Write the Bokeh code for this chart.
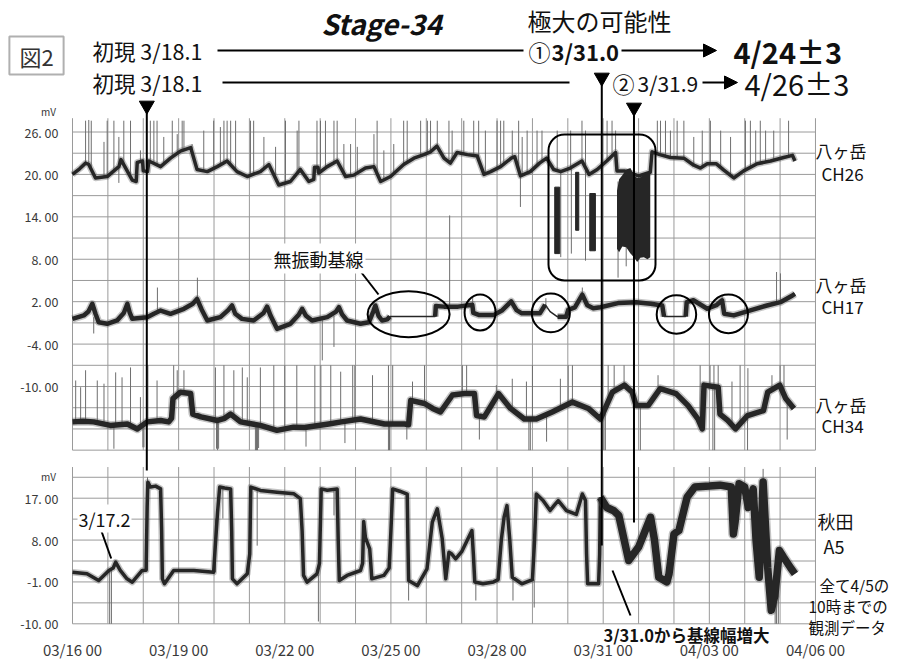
from bokeh.plotting import figure
from bokeh.models import Range1d, FixedTicker, Label, Arrow, NormalHead, BoxAnnotation
from bokeh.core.properties import value
from bokeh.embed import file_html
from bokeh.resources import INLINE

# ---------------- data (x = days since 03/16 00, y = mV) ----------------
x_tick_days = [0, 3, 6, 9, 12, 15, 18, 21]
x_tick_labels = ["03/16 00", "03/19 00", "03/22 00", "03/25 00",
                 "03/28 00", "03/31 00", "04/03 00", "04/06 00"]
upper_ticks = [26, 20, 14, 8, 2, -4, -10]
lower_ticks = [17, 8, -1, -10]
upper_grid_mv = [26, 23, 20, 17, 14, 11, 8, 5, 2, -1, -4, -7, -10, -13, -16, -19]
lower_grid_mv = [21.5, 17, 12.5, 8, 3.5, -1, -5.5, -10]
grid_days = list(range(22))

# Yatsugatake CH26 (baseline of the band)
ch26 = [(0.00, 20.0), (0.20, 20.8), (0.37, 21.6), (0.46, 21.4), (0.65, 19.5), (0.98, 19.7),
        (1.31, 21.1), (1.37, 22.1), (1.69, 19.2), (1.80, 19.0), (1.83, 21.7), (1.98, 21.9),
        (2.00, 20.5), (2.12, 20.4), (2.16, 21.9), (2.49, 21.1), (2.77, 22.3), (3.05, 23.3),
        (3.34, 23.8), (3.52, 20.7), (3.81, 20.4), (4.09, 21.1), (4.37, 21.9), (4.65, 20.4),
        (4.94, 19.7), (5.31, 20.4), (5.55, 21.4), (5.83, 18.5), (6.16, 19.0), (6.44, 20.7),
        (6.68, 19.0), (6.82, 19.3), (6.84, 21.0), (6.94, 21.0), (6.96, 20.2), (7.20, 21.1),
        (7.48, 21.9), (7.72, 19.7), (7.95, 19.9), (8.28, 20.9), (8.52, 21.1), (8.71, 19.0),
        (8.99, 19.7), (9.36, 21.4), (9.65, 22.3), (9.93, 22.8), (10.12, 23.2), (10.30, 24.0),
        (10.50, 22.3), (10.68, 21.6), (10.87, 23.1), (11.16, 22.8), (11.44, 22.6), (11.63, 20.0),
        (11.82, 20.4), (12.10, 21.1), (12.40, 22.3), (12.50, 22.5), (12.66, 19.8), (12.94, 20.4),
        (13.20, 21.6), (13.40, 22.3), (13.60, 20.7), (13.80, 20.4), (14.07, 20.9), (14.40, 21.9),
        (14.60, 20.0), (14.83, 20.7), (15.10, 21.9), (15.35, 23.1), (15.39, 20.5), (15.60, 20.5),
        (16.00, 19.8), (16.33, 20.3), (16.38, 23.2), (16.60, 22.8), (16.90, 22.4), (17.28, 22.3),
        (17.56, 21.3), (17.75, 20.9), (17.94, 21.5), (18.20, 21.5), (18.41, 20.6), (18.69, 19.5),
        (18.97, 20.5), (19.35, 21.5), (19.73, 21.9), (20.10, 22.4), (20.35, 22.7), (20.42, 21.9)]
# CH26 spikes: (day, from mV, to mV)
ch26_spikes = [(0.37, 21.6, 27.6), (0.46, 21.4, 27.7), (0.53, 20.5, 27.6), (0.89, 19.7, 24.6),
               (0.98, 19.7, 27.6), (1.17, 20.4, 27.6), (1.31, 21.1, 25.3), (1.45, 21.6, 27.6),
               (1.64, 19.4, 27.6), (1.92, 21.9, 23.4), (2.20, 21.7, 27.6), (2.30, 21.4, 27.6),
               (2.39, 21.2, 27.6), (2.58, 21.4, 25.3), (2.82, 22.4, 27.6), (2.96, 22.9, 25.7),
               (3.10, 23.4, 27.6), (3.15, 23.5, 27.6), (3.38, 23.0, 24.3), (3.71, 20.5, 26.2),
               (3.99, 20.8, 27.6), (4.18, 21.4, 26.7), (4.28, 21.6, 27.6), (4.37, 21.9, 27.6),
               (4.47, 21.4, 27.6), (4.61, 20.6, 27.6), (5.03, 19.9, 27.6), (5.12, 20.1, 27.6),
               (5.41, 20.9, 25.3), (5.74, 19.0, 23.9), (6.02, 18.7, 27.6), (6.35, 20.3, 26.2),
               (6.40, 20.5, 27.6), (6.91, 20.2, 27.6), (7.01, 20.3, 27.6), (7.15, 20.9, 27.6),
               (7.39, 21.6, 27.6), (7.48, 21.9, 27.6), (7.67, 20.2, 24.3), (7.86, 19.8, 24.3),
               (8.05, 20.2, 23.9), (8.52, 21.1, 25.7), (8.61, 20.3, 27.6), (8.80, 19.2, 23.4),
               (9.08, 20.1, 24.3), (9.36, 21.4, 27.6), (9.46, 21.7, 27.6), (9.84, 22.6, 27.6),
               (10.03, 23.0, 27.6), (10.12, 23.2, 27.6), (10.31, 24.0, 27.6), (10.64, 21.7, 27.6),
               (10.73, 21.9, 26.2), (11.06, 22.9, 27.6), (11.34, 22.7, 27.6), (11.48, 22.3, 27.6),
               (11.67, 20.0, 26.2), (12.00, 20.9, 27.6), (12.10, 21.1, 27.6), (12.19, 21.5, 27.6),
               (12.43, 22.4, 26.2), (12.61, 20.5, 27.6), (12.71, 19.8, 25.3), (12.85, 20.2, 26.2),
               (13.13, 21.3, 26.2), (13.27, 21.8, 26.2), (13.70, 20.6, 26.2), (14.08, 20.9, 26.2),
               (14.40, 21.9, 27.6), (14.50, 21.0, 26.2), (15.11, 21.9, 27.6), (15.25, 22.6, 27.6),
               (15.35, 23.1, 26.2), (16.53, 23.0, 27.6), (16.62, 22.8, 27.6), (16.76, 22.6, 27.6),
               (16.90, 22.4, 26.2), (17.09, 22.4, 27.6), (17.28, 22.3, 27.6), (17.56, 21.3, 25.3),
               (17.80, 21.0, 26.2), (18.03, 21.5, 27.6), (18.32, 21.0, 26.2), (18.60, 19.7, 25.3),
               (19.02, 20.6, 27.6), (19.16, 21.0, 27.6), (19.31, 21.4, 26.2), (19.44, 21.6, 27.6),
               (19.59, 21.8, 26.2), (19.82, 22.0, 26.2), (20.24, 22.6, 27.6),
               (1.31, 21.1, 18.8), (12.66, 19.8, 15.4), (13.80, 20.4, 8.3), (14.10, 20.9, 8.8),
               (14.50, 21.0, 7.8), (15.42, 19.0, 5.4), (15.65, 19.5, 7.0)]
# CH26 large-amplitude bursts: (start day, end day, low mV, high mV)
ch26_bursts = [(13.63, 13.77, 8.8, 18.2), (14.22, 14.31, 12.1, 20.3), (14.62, 14.78, 9.2, 17.3)]
ch26_block_day = [15.39, 15.45, 15.54, 15.65, 15.77, 15.87, 15.96, 16.05, 16.15, 16.25, 16.33]
ch26_block_low = [9.5, 9.0, 9.8, 9.7, 8.8, 8.3, 7.6, 8.2, 8.3, 8.0, 8.3]
ch26_block_high = [17.7, 19.3, 19.9, 20.7, 20.9, 19.9, 19.5, 19.6, 20.0, 20.1, 20.3]

# Yatsugatake CH17
ch17 = [(0.00, -0.43), (0.32, 0.05), (0.45, 0.6), (0.56, 1.7), (0.65, 0.3), (0.74, -0.9),
        (0.98, -1.13), (1.26, -0.66), (1.45, 0.4), (1.55, 1.7), (1.62, 0.4), (1.69, -0.43),
        (2.11, -0.19), (2.30, 0.3), (2.49, 0.75), (2.77, 0.28), (3.15, 0.99), (3.40, 1.7),
        (3.52, 2.4), (3.65, 0.9), (3.81, -0.66), (4.18, -0.19), (4.40, 0.8), (4.51, 1.46),
        (4.60, 0.3), (4.79, -0.43), (5.12, -0.66), (5.40, 0.4), (5.50, 1.3), (5.60, 0.0),
        (5.78, -1.84), (6.16, -1.13), (6.40, 0.2), (6.49, 0.99), (6.60, 0.0), (6.77, -0.66),
        (7.20, -0.19), (7.45, 0.6), (7.53, 1.22), (7.62, 0.2), (7.76, -0.66), (8.14, -1.13),
        (8.38, -0.9), (8.50, 0.6), (8.56, 1.46), (8.65, 0.0), (8.75, -0.66), (8.90, -0.5),
        (8.97, -0.1), (10.25, -0.1), (10.27, 1.4), (10.50, 1.3), (10.90, 1.3), (11.30, 1.56),
        (11.33, 0.4), (11.50, 0.1), (11.90, 0.1), (12.15, 0.8), (12.40, 2.04), (12.55, 0.8),
        (12.70, 0.35), (13.21, 0.35), (13.36, 1.56), (13.50, 0.6), (13.71, -0.14), (13.95, -0.14),
        (14.01, 0.83), (14.20, 1.2), (14.41, 3.0), (14.55, 1.5), (14.72, 1.07), (14.92, 1.22),
        (15.42, 1.8), (15.93, 1.93), (16.34, 1.7), (16.67, 1.46), (16.72, -0.1), (17.33, -0.1),
        (17.36, 1.93), (17.55, 2.2), (17.94, 1.0), (18.20, 1.5), (18.36, 2.2), (18.42, 0.29),
        (18.69, 0.06), (19.16, 0.77), (19.63, 1.46), (20.01, 1.93), (20.35, 2.88), (20.42, 3.1)]
ch17_quiet = [(8.97, 10.25), (13.36, 13.71), (16.72, 17.33)]
ch17_spikes = [(0.60, -0.2, -2.5), (2.40, 0.6, 4.0), (3.53, 2.3, 5.4), (7.06, -0.2, -6.3),
               (7.39, 0.0, -4.4), (10.66, 1.3, 14.2), (11.31, 1.5, 2.8), (13.38, 1.5, 2.5),
               (14.41, 3.0, 4.0), (18.36, 2.2, 3.0), (19.90, 1.8, 6.2), (20.01, 1.9, 6.0)]

# Yatsugatake CH34
ch34 = [(0.00, -15.0), (0.30, -14.9), (0.60, -15.0), (1.07, -15.5), (1.55, -15.3), (1.83, -16.0),
        (2.11, -15.0), (2.49, -14.8), (2.72, -15.0), (2.80, -14.5), (2.84, -11.7), (3.05, -10.8),
        (3.34, -11.0), (3.37, -12.5), (3.40, -13.9), (3.63, -14.3), (4.10, -14.8), (4.30, -14.5),
        (4.47, -13.9), (4.75, -15.0), (5.31, -15.5), (5.78, -16.2), (6.25, -15.75), (6.56, -15.8),
        (7.24, -15.3), (7.60, -15.0), (8.14, -14.6), (8.82, -15.3), (9.39, -15.3), (9.50, -15.4),
        (9.56, -11.95), (9.95, -12.4), (10.18, -13.1), (10.40, -13.6), (10.74, -11.2), (11.08, -11.0),
        (11.36, -11.0), (11.42, -14.1), (11.64, -14.3), (12.04, -11.0), (12.38, -13.1), (12.77, -14.6),
        (13.11, -14.6), (13.56, -13.6), (14.13, -12.2), (14.58, -13.1), (14.92, -14.6), (15.09, -12.7),
        (15.26, -10.8), (15.60, -9.8), (15.82, -10.8), (15.93, -12.7), (16.27, -12.7), (16.61, -10.3),
        (17.06, -11.0), (17.40, -12.7), (17.68, -14.6), (17.80, -16.0), (17.85, -9.8), (18.25, -10.1),
        (18.30, -13.9), (18.52, -14.8), (18.74, -16.0), (19.08, -14.1), (19.53, -13.4), (19.65, -10.8),
        (19.99, -9.8), (20.16, -11.7), (20.39, -13.1)]
ch34_spikes = [(0.09, -15.0, -9.15), (0.23, -15.0, -10.1), (0.37, -14.9, -7.7), (0.70, -15.1, -9.15),
               (0.89, -15.3, -9.6), (1.22, -15.5, -8.0), (1.40, -15.4, -8.7), (1.64, -15.5, -7.3),
               (1.92, -15.8, -11.5), (2.13, -15.0, -7.0), (2.39, -14.8, -9.15), (2.86, -11.5, -7.0),
               (2.96, -11.0, -7.7), (3.15, -10.9, -7.7), (4.04, -14.8, -7.3), (4.28, -14.5, -7.0),
               (4.56, -14.2, -7.7), (4.80, -15.0, -7.3), (4.94, -15.2, -8.7), (5.31, -15.5, -7.3),
               (5.69, -16.0, -7.0), (6.00, -15.6, -7.0), (6.34, -15.8, -7.0), (6.85, -15.6, -7.0),
               (7.02, -15.5, -7.0), (7.30, -15.3, -7.0), (7.58, -15.1, -7.9), (7.92, -14.8, -7.0),
               (7.98, -14.8, -7.0), (8.48, -14.9, -8.4), (8.93, -15.3, -7.0), (9.05, -15.3, -7.0),
               (9.61, -12.0, -9.3), (9.95, -12.4, -7.0), (11.02, -11.0, -7.0), (11.14, -11.0, -7.0),
               (11.98, -11.2, -9.8), (12.43, -13.2, -8.9), (12.83, -14.6, -9.3), (13.00, -14.6, -7.0),
               (13.79, -13.0, -8.9), (14.01, -12.5, -7.0), (14.13, -12.2, -7.0), (15.14, -12.3, -7.0),
               (15.31, -10.8, -7.0), (15.59, -9.8, -7.0), (16.55, -10.5, -8.4), (17.74, -15.0, -7.0),
               (18.02, -10.0, -7.0), (18.13, -10.0, -7.0), (18.25, -10.1, -7.0), (18.64, -15.3, -9.3),
               (18.87, -15.5, -7.0), (19.09, -14.1, -7.4), (19.77, -10.5, -8.4), (20.00, -9.8, -7.0),
               (20.11, -10.8, -7.0),
               (1.17, -15.5, -18.8), (1.99, -15.5, -18.6), (2.02, -15.5, -18.6), (4.07, -14.8, -18.8),
               (4.10, -14.8, -19.0), (4.13, -14.8, -18.8), (5.17, -15.3, -19.0), (5.20, -15.4, -19.0),
               (5.23, -15.4, -19.0), (5.26, -15.5, -18.7), (6.60, -15.8, -18.5), (7.70, -15.0, -18.0),
               (8.93, -15.3, -19.0), (8.96, -15.3, -19.0), (9.45, -15.4, -17.5), (11.50, -14.2, -17.5),
               (12.90, -14.6, -19.0), (12.94, -14.6, -19.0), (13.40, -14.0, -17.8), (15.02, -14.0, -19.0),
               (15.06, -13.5, -19.0), (16.05, -12.7, -19.0), (18.10, -10.0, -19.0), (18.15, -10.0, -19.0),
               (19.08, -14.1, -19.0), (20.20, -11.7, -17.5)]

# Akita A5 (before and after the baseline widening at 3/31.0)
a5_before = [(0.00, 1.1), (0.41, 0.74), (0.74, -0.7), (1.03, 1.46), (1.15, 2.0), (1.22, 3.25),
             (1.35, 1.5), (1.54, -0.33), (1.69, -1.05), (1.97, 1.46), (2.08, 1.5), (2.11, 15.0),
             (2.13, 20.45), (2.20, 19.4), (2.35, 19.6), (2.49, 19.0), (2.52, 10.0), (2.54, -0.33),
             (2.60, -1.4), (2.86, 1.46), (3.43, 1.46), (3.99, 1.1), (4.03, 6.0), (4.10, 14.0),
             (4.16, 19.4), (4.30, 19.2), (4.47, 19.0), (4.50, 10.0), (4.52, -0.33), (4.65, -1.4),
             (4.94, 0.74), (5.01, 5.0), (5.04, 19.4), (5.31, 18.66), (5.78, 18.3), (6.26, 17.94),
             (6.44, 16.9), (6.49, 10.0), (6.53, 0.4), (6.63, -1.05), (6.91, 0.74), (6.98, 3.0),
             (7.03, 19.0), (7.20, 18.7), (7.48, 19.0), (7.51, 8.0), (7.54, -0.7), (7.76, 0.4),
             (8.14, 1.46), (8.20, 3.0), (8.23, 12.0), (8.28, 8.5), (8.40, 6.1), (8.43, 3.0),
             (8.46, -0.33), (8.80, 0.4), (8.95, 2.0), (9.00, 10.0), (9.05, 19.0), (9.25, 18.5),
             (9.46, 17.9), (9.48, 8.0), (9.50, -0.7), (9.75, -1.8), (10.02, 1.8), (10.17, 11.85),
             (10.31, 14.7), (10.45, 8.27), (10.55, -0.33), (10.64, 5.4), (10.72, 5.0), (10.83, 3.97),
             (11.00, 5.5), (11.29, 10.05), (11.33, 5.0), (11.37, -1.0), (11.60, -1.4), (11.90, -1.0),
             (12.03, -0.5), (12.12, 8.0), (12.20, 13.0), (12.28, 15.4), (12.36, 8.0), (12.43, 0.0),
             (12.70, -1.4), (13.00, -0.5), (13.06, 8.0), (13.11, 17.9), (13.30, 16.5), (13.50, 14.35),
             (13.62, 15.5), (13.73, 16.5), (13.96, 14.35), (14.24, 13.5), (14.41, 17.9), (14.50, 16.5),
             (14.53, 5.0), (14.56, -1.4), (14.87, -1.4), (14.90, 5.0), (14.92, 17.2)]
a5_after = [(14.92, 17.2), (15.10, 15.0), (15.30, 14.3), (15.44, 13.3), (15.72, 3.6), (16.00, 6.5),
            (16.34, 12.9), (16.45, 8.0), (16.57, 0.0), (16.80, -1.0), (16.86, 0.7), (17.00, 9.3),
            (17.14, 10.05), (17.37, 17.2), (17.59, 19.4), (18.00, 19.6), (18.30, 19.8), (18.62, 19.4),
            (18.68, 9.3), (18.73, 12.0), (18.84, 20.1), (19.00, 19.4), (19.10, 15.0), (19.24, 19.0),
            (19.32, 8.0), (19.41, 0.0), (19.47, 10.0), (19.52, 20.5), (19.58, 12.0), (19.65, 2.0),
            (19.75, -7.1), (19.85, -4.0), (19.98, 5.75), (20.10, 4.3), (20.30, 2.0), (20.42, 0.74)]
a5_spikes = [(1.05, 1.4, -10.0), (1.10, 1.5, -10.0), (2.12, 1.5, 21.5), (4.04, 1.1, 12.6),
             (4.25, 19.3, 12.6), (5.22, 18.7, 6.8), (6.95, 0.5, -9.5), (7.39, 18.8, 13.3),
             (9.50, -0.7, -5.0), (11.40, -1.0, -5.0), (12.45, 0.0, -5.0), (13.05, -0.5, -6.5),
             (19.52, 20.5, 23.3), (19.86, -4.0, -10.0), (19.90, -3.0, -10.0), (19.95, 0.0, -10.0)]

# marked dates (days): first appearance 3/18.1, 3/31.0, 3/31.9
mark_days = [2.1, 14.96, 15.87]
# quiet-baseline circles (centre day)
quiet_circle_days = [9.50, 11.52, 13.52, 17.07, 18.54]

# ---------------- layout calibration (page pixels) ----------------
W, H = 905, 666
FRAME_BOTTOM = 644
PX_PER_DAY = 35.38
X0_PAGE = 72.0
UP_REF_MV, UP_REF_PAGE, UP_PX = 26.0, 131.5, 7.07
LO_REF_MV, LO_REF_PAGE, LO_PX = 17.0, 497.7, 4.652
JP = "Noto Sans CJK JP"


def up_mv(py):
    return UP_REF_MV - (py - UP_REF_PAGE) / UP_PX


def lo_mv(py):
    return LO_REF_MV - (py - LO_REF_PAGE) / LO_PX


def day_at(px):
    return (px - X0_PAGE) / PX_PER_DAY


p = figure(width=W, height=H, output_backend="svg", toolbar_location=None,
           x_range=Range1d(day_at(0), day_at(W)),
           y_range=Range1d(up_mv(FRAME_BOTTOM), up_mv(0)),
           y_axis_location=None,
           min_border=0, min_border_left=0, min_border_right=0, min_border_top=0,
           min_border_bottom=H - FRAME_BOTTOM)
p.extra_y_ranges = {"lower": Range1d(lo_mv(FRAME_BOTTOM), lo_mv(0)),
                    "py": Range1d(FRAME_BOTTOM, 0)}
p.extra_x_ranges = {"px": Range1d(0, W)}
p.outline_line_color = None
p.background_fill_color = "white"
p.border_fill_color = "white"
p.xgrid.visible = False
p.ygrid.visible = False

# x axis (real Bokeh axis)
p.xaxis.ticker = FixedTicker(ticks=x_tick_days)
p.xaxis.major_label_overrides = {d: s for d, s in zip(x_tick_days, x_tick_labels)}
p.xaxis.axis_line_color = None
p.xaxis.major_tick_line_color = None
p.xaxis.minor_tick_line_color = None
p.xaxis.major_tick_out = 0
p.xaxis.major_tick_in = 0
p.xaxis.minor_tick_out = 0
p.xaxis.minor_tick_in = 0
p.xaxis.major_label_text_font = JP
p.xaxis.major_label_text_color = "#3a3a3a"
p.xaxis.major_label_text_font_size = "15px"
p.xaxis.major_label_standoff = -6


def fmt(v):
    return ("%.2f" % v).replace(".", ". ")


# y tick labels of both panels, placed through each panel's own mV scale
TICK_X = 58
p.text(x=[TICK_X] * len(upper_ticks), y=upper_ticks, text=[fmt(v) for v in upper_ticks],
       x_range_name="px", text_align="right", text_baseline="middle",
       text_font=value(JP), text_font_size="12.5px", text_color="#3a3a3a")
p.text(x=[TICK_X] * len(lower_ticks), y=lower_ticks, text=[fmt(v) for v in lower_ticks],
       x_range_name="px", y_range_name="lower", text_align="right", text_baseline="middle",
       text_font=value(JP), text_font_size="12.5px", text_color="#3a3a3a")

GRID = "#9a9a9a"
n = len(grid_days)
p.segment(x0=grid_days, y0=[upper_grid_mv[-1]] * n, x1=grid_days, y1=[27.95] * n,
          line_color=GRID, line_width=1)
m = len(upper_grid_mv)
p.segment(x0=[grid_days[0]] * m, y0=upper_grid_mv, x1=[grid_days[-1]] * m, y1=upper_grid_mv,
          line_color=GRID, line_width=1)
p.segment(x0=grid_days, y0=[lower_grid_mv[-1]] * n, x1=grid_days, y1=[23.7] * n,
          line_color=GRID, line_width=1, y_range_name="lower")
k = len(lower_grid_mv)
p.segment(x0=[grid_days[0]] * k, y0=lower_grid_mv, x1=[grid_days[-1]] * k, y1=lower_grid_mv,
          line_color=GRID, line_width=1, y_range_name="lower")

TRACE = "#262626"
SPIKE = "#6e6e6e"


def unzip(pairs):
    return [a for a, _ in pairs], [b for _, b in pairs]


def spikes(lst, rng="default"):
    d = [s[0] for s in lst]
    p.segment(x0=d, y0=[s[1] for s in lst], x1=d, y1=[s[2] for s in lst],
              line_color=SPIKE, line_width=1, y_range_name=rng)


def band(d, v, width, rng="default"):
    p.line(d, v, line_color="#555555", line_alpha=0.35, line_width=width + 3,
           line_join="round", y_range_name=rng)
    p.line(d, v, line_color=TRACE, line_width=width, line_join="round", y_range_name=rng)


def broken(days, vals, quiet):
    xs, ys = [], []
    for i, (d, v) in enumerate(zip(days, vals)):
        if i > 0 and any(a <= days[i - 1] and d <= b for a, b in quiet):
            xs.append(float("nan"))
            ys.append(float("nan"))
        xs.append(d)
        ys.append(v)
    return xs, ys


# CH26
spikes(ch26_spikes)
d, v = unzip(ch26)
band(d, v, 3.5)
p.quad(left=[b[0] for b in ch26_bursts], right=[b[1] for b in ch26_bursts],
       bottom=[b[2] for b in ch26_bursts], top=[b[3] for b in ch26_bursts],
       fill_color=TRACE, line_color=TRACE)
p.varea(x=ch26_block_day, y1=ch26_block_low, y2=ch26_block_high, fill_color=TRACE)

# CH17
spikes(ch17_spikes)
d, v = unzip(ch17)
p.line(d, v, line_color=TRACE, line_width=1.5)
bx, by = broken(d, v, ch17_quiet)
band(bx, by, 4.5)

# CH34
spikes(ch34_spikes)
d, v = unzip(ch34)
band(d, v, 5.5)

# A5
spikes(a5_spikes, "lower")
d, v = unzip(a5_before)
band(d, v, 3.5, "lower")
d, v = unzip(a5_after)
band(d, v, 7.5, "lower")

# ---------------- annotations ----------------
# marked-date vertical lines and triangles
p.segment(x0=mark_days, y0=[107, 80, 109], x1=mark_days, y1=[470, 545, 522],
          y_range_name="py", line_color="black", line_width=2)
p.scatter(x=mark_days, y=[105, 77, 107], y_range_name="py",
          marker="inverted_triangle", size=15, color="black")

# quiet-baseline ellipses
p.ellipse(x=quiet_circle_days, y=[313.7, 312.0, 312.4, 314.0, 313.4], y_range_name="py",
          width=[82, 31, 38, 39.5, 39], height=[46, 36, 38.7, 38.3, 38.7],
          width_units="screen", height_units="screen",
          fill_color=None, line_color="black", line_width=2)

# rounded box around the CH26 bursts
p.add_layout(BoxAnnotation(left=day_at(548), right=day_at(655), top=134, bottom=280,
                           y_range_name="py", fill_color=None, fill_alpha=0,
                           line_color="black", line_alpha=1.0, line_width=2,
                           border_radius=16))

# header lines and arrows
p.segment(x0=[217, 222], y0=[50, 82], x1=[523, 569], y1=[50, 82],
          x_range_name="px", y_range_name="py", line_color="black", line_width=2)
for xs, xe, yy in [(621, 716, 50), (702, 737, 82)]:
    p.add_layout(Arrow(end=NormalHead(size=13, fill_color="black", line_color="black"),
                       x_start=xs, y_start=yy, x_end=xe, y_end=yy, line_width=2,
                       x_range_name="px", y_range_name="py"))

# pointer lines
p.segment(x0=[100, 357, 612], y0=[528, 267, 570], x1=[110.7, 378, 630], y1=[558, 294, 615],
          x_range_name="px", y_range_name="py", line_color="black", line_width=2)


def lab(x, y, text, size, align="left", style="normal", color="#111", bg=None,
        border=None, pad=0):
    p.add_layout(Label(x=x, y=y, text=text, x_range_name="px", y_range_name="py",
                       text_font=JP, text_font_size="%spx" % size, text_font_style=style,
                       text_align=align, text_baseline="middle", text_color=color,
                       background_fill_color=bg, border_line_color=border,
                       border_line_width=2, padding=pad))


lab(36, 55, "図2", 22, align="center", color="#333", bg="white", border="#b0b0b0", pad=(10, 3))
lab(381, 22, "Stage-34", 28, align="center", style="bold italic")
lab(599, 20, "極大の可能性", 24, align="center")
lab(92, 50, "初現 3/18.1", 21.5)
lab(539, 50, "①", 22, align="center")
lab(551, 50, "3/31.0", 22, style="bold")
lab(733, 50, "4/24±3", 29, style="bold")
lab(92, 82, "初現 3/18.1", 21.5)
lab(623, 82, "②", 22, align="center")
lab(637, 82, "3/31.9", 21)
lab(744, 82, "4/26±3", 29)
lab(48, 111, "mV", 10, align="center", color="#333")
lab(48, 476, "mV", 10, align="center", color="#333")

lab(104, 518, "3/17.2", 18, align="center", bg="white", pad=1)
lab(318, 258, "無振動基線", 18, align="center", bg="white", pad=2)
lab(686, 634, "3/31.0から基線幅増大", 16.5, align="center", style="bold")
lab(815, 150, "八ヶ岳", 17)
lab(821, 173, "CH26", 17)
lab(815, 284, "八ヶ岳", 17)
lab(821, 306, "CH17", 17)
lab(815, 404, "八ヶ岳", 17)
lab(821, 425, "CH34", 17)
lab(817, 520, "秋田", 18)
lab(823, 545, "A5", 18)
lab(819, 584, "全て4/5の", 15.5)
lab(808, 605, "10時までの", 15.5)
lab(808, 626, "観測データ", 15.5)

open("out.html", "w").write(file_html(p, INLINE))
